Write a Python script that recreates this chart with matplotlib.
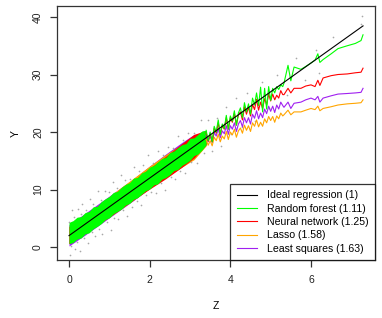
import matplotlib
matplotlib.use("Agg")
import matplotlib.pyplot as plt

plt.rcParams['font.family'] = ['Liberation Sans', 'DejaVu Sans']

# ideal regression line end points
ideal_z = [0.0, 7.29]
ideal_y = [2.0, 38.45]

# dense part (z 0..3.4): green band edges
band_z = [0.0, 0.1, 0.2, 0.3, 0.4, 0.5, 0.6, 0.7, 0.8, 0.9, 1.0, 1.1, 1.2, 1.3, 1.4, 1.5, 1.6,
          1.7, 1.8, 1.9, 2.0, 2.1, 2.2, 2.3, 2.4, 2.5, 2.6, 2.7, 2.8, 2.9, 3.0, 3.1, 3.2, 3.3, 3.4]
rf_up = [4.3, 4.6, 5.2, 5.3, 6.0, 6.2, 7.0, 7.1, 7.9, 8.4, 8.8, 9.5, 9.7, 10.4, 10.9, 11.2, 12.0,
         12.1, 12.9, 13.2, 13.9, 14.2, 14.8, 15.4, 15.6, 16.4, 16.7, 17.3, 17.8, 18.0, 18.9, 19.0,
         19.6, 20.2, 20.3]
rf_lo = [0.6, 0.8, 1.4, 1.6, 2.3, 2.5, 3.2, 3.6, 4.1, 4.8, 5.1, 5.8, 6.2, 6.6, 7.3, 7.6, 8.3,
         8.6, 9.2, 9.8, 10.1, 10.8, 11.0, 11.8, 12.1, 12.6, 13.3, 13.5, 14.2, 14.6, 15.1, 15.9,
         16.2, 16.9, 17.8]

# other methods in the dense part, coarser
band2_z = [0.0, 0.4, 0.8, 1.2, 1.6, 2.0, 2.4, 2.8, 3.1, 3.4]
ls_up = [3.9, 5.9, 7.9, 9.9, 11.9, 14.1, 16.2, 18.2, 19.6, 19.6]
ls_lo = [0.2, 2.1, 4.1, 6.1, 8.1, 10.2, 12.3, 14.3, 15.8, 18.0]
lasso_up = [3.6, 5.6, 7.6, 9.9, 12.0, 14.1, 16.1, 17.9, 19.0, 18.8]
lasso_lo = [0.6, 2.4, 4.3, 6.2, 8.2, 10.2, 12.1, 13.9, 15.2, 17.6]
nn_up = [3.6, 5.6, 7.6, 9.6, 11.6, 13.7, 15.8, 18.0, 19.6, 20.3]
nn_lo = [0.6, 2.4, 4.3, 6.2, 8.2, 10.1, 11.9, 13.9, 15.5, 17.8]

# sparse part (z >= 3.4) as lines
line_z = [3.40, 3.45, 3.50, 3.55, 3.60, 3.65, 3.70, 3.75, 3.80, 3.85, 3.90, 3.95, 4.00, 4.05,
          4.10, 4.15, 4.20, 4.25, 4.30, 4.35, 4.40, 4.45, 4.50, 4.55, 4.60, 4.65, 4.70, 4.75,
          4.80, 4.85, 4.90, 4.95, 5.00, 5.05, 5.10, 5.15, 5.20, 5.25, 5.30,
          5.33, 5.43, 5.5, 5.58, 5.75, 5.87, 6.0, 6.1, 6.17, 6.22, 6.3, 6.5, 6.67, 6.9, 7.1,
          7.24, 7.29]
rf_y = [20.3, 18.5, 20.0, 18.3, 21.0, 20.0, 22.1, 19.6, 21.4, 20.6, 22.9, 20.5, 22.8, 21.9,
        23.7, 21.2, 23.3, 24.2, 22.5, 25.1, 23.5, 24.9, 23.1, 25.9, 24.7, 26.8, 24.6, 27.8,
        23.5, 27.6, 24.0, 27.9, 25.5, 27.6, 26.8, 27.9, 27.4, 28.2, 27.9,
        28.5, 31.6, 28.9, 31.3, 30.9, 31.4, 32.0, 32.5, 33.6, 32.1, 32.6, 33.6, 34.5, 35.0, 35.4,
        35.9, 36.9]
nn_y = [19.9, 18.4, 19.7, 18.3, 20.7, 19.8, 21.6, 19.6, 21.1, 20.5, 22.5, 20.5, 22.5, 21.7,
        23.3, 21.2, 23.0, 23.5, 22.1, 24.4, 23.1, 24.3, 22.8, 24.8, 23.9, 25.7, 23.8, 25.2,
        24.1, 25.8, 24.7, 26.6, 25.4, 26.6, 25.6, 26.4, 25.9, 27.2, 26.5,
        26.5, 27.6, 26.8, 27.6, 27.6, 28.0, 28.2, 27.9, 29.0, 28.1, 29.4, 29.8, 30.0, 30.1, 30.3,
        30.4, 31.1]
ls_y = [19.4, 18.3, 19.3, 18.2, 19.9, 19.3, 20.6, 19.0, 20.2, 19.7, 21.1, 19.6, 21.1, 20.5,
        21.6, 20.1, 21.4, 22.0, 20.9, 22.5, 21.6, 22.5, 21.4, 23.1, 22.4, 23.7, 22.3, 23.3,
        22.5, 24.0, 23.2, 24.5, 23.6, 24.5, 23.4, 24.7, 24.0, 25.2, 24.6,
        24.3, 25.2, 24.1, 25.0, 25.2, 25.6, 25.9, 25.6, 26.2, 25.2, 25.9, 26.3, 26.6, 26.7, 26.8,
        26.9, 27.6]
lasso_y = [18.7, 17.7, 18.5, 17.6, 19.1, 18.5, 19.6, 18.3, 19.3, 18.8, 20.1, 18.7, 20.0, 19.5,
           20.5, 19.1, 20.2, 20.7, 19.8, 21.2, 20.3, 21.1, 20.1, 21.6, 21.0, 22.1, 20.9, 21.7,
           21.0, 22.3, 21.6, 22.7, 22.0, 22.7, 21.7, 22.8, 22.3, 23.3, 22.8,
           23.0, 23.8, 23.0, 23.5, 23.5, 23.8, 24.1, 23.9, 24.5, 23.7, 24.1, 24.4, 24.7, 24.9,
           25.0, 25.1, 25.6]

# grey data points visible outside the coloured band
pts_z = [0.01, 0.03, 0.06, 0.08, 0.12, 0.14, 0.19, 0.22, 0.27, 0.30, 0.33, 0.38, 0.42, 0.47,
         0.52, 0.56, 0.60, 0.64, 0.71, 0.74, 0.79, 0.83, 0.88, 0.93, 0.98, 1.03, 1.08, 1.12,
         1.18, 1.22, 1.29, 1.33, 1.38, 1.45, 1.50, 1.55, 1.62, 1.68, 1.73, 1.79, 1.84, 1.90,
         1.97, 2.03, 2.08, 2.15, 2.21, 2.27, 2.33, 2.38, 2.45, 2.52, 2.58, 2.63, 2.70, 2.76,
         2.82, 2.88, 2.95, 3.02, 3.10, 3.18, 3.27, 3.35, 3.45, 3.55, 3.66, 3.78, 3.90, 4.02,
         4.15, 4.30, 4.42, 4.60, 4.78, 4.95, 5.15, 5.40, 5.62, 5.85, 6.12, 6.20, 6.55, 7.25, 7.27]
pts_y = [4.35, -1.35, 0.2, 6.4, 5.2, -0.4, 0.95, 6.7, -0.65, 5.7, 7.55, 1.5, 6.5, 0.75,
         8.4, 2.6, 7.5, 1.9, 9.75, 3.1, 8.15, 2.25, 9.8, 4.35, 9.5, 3.05, 11.3, 5.1,
         10.3, 4.9, 12.45, 6.45, 11.7, 5.45, 11.8, 7.05, 14.0, 8.1, 13.15, 7.35, 14.2, 9.1,
         15.95, 9.55, 14.7, 9.35, 16.65, 11.15, 16.05, 10.0, 17.45, 12.2, 17.2, 11.85, 19.3, 13.3,
         18.7, 12.8, 19.75, 14.8, 19.9, 14.7, 22.05, 16.35, 22.05, 16.75, 22.5, 17.6, 24.4, 19.7,
         25.85, 20.9, 26.7, 21.9, 28.7, 24.25, 29.85, 26.4, 32.8, 29.05, 34.2, 30.2, 36.55, 38.7,
         40.2]

labels = ["Ideal regression (1)", "Random forest (1.11)", "Neural network (1.25)",
          "Lasso (1.58)", "Least squares (1.63)"]

c_rf = "#00FF00"
c_nn = "#FF0000"
c_lasso = "#FFA500"
c_ls = "#A020F0"

fig = plt.figure(figsize=(3.82, 3.18), dpi=100)
ax = fig.add_axes([0.149, 0.182, 0.833, 0.799])

ax.plot(pts_z, pts_y, 'o', color='#a8a8a8', markersize=1.2, markeredgewidth=0)

lw = 0.8
ax.fill_between(band2_z, ls_lo, ls_up, color=c_ls, lw=0)
ax.fill_between(band2_z, lasso_lo, lasso_up, color=c_lasso, lw=0)
ax.fill_between(band2_z, nn_lo, nn_up, color=c_nn, lw=0)
ax.fill_between(band_z, rf_lo, rf_up, color=c_rf, lw=0)

h_ls, = ax.plot(line_z, ls_y, color=c_ls, lw=lw)
h_lasso, = ax.plot(line_z, lasso_y, color=c_lasso, lw=lw)
h_nn, = ax.plot(line_z, nn_y, color=c_nn, lw=lw)
h_rf, = ax.plot(line_z, rf_y, color=c_rf, lw=lw)
h_id, = ax.plot(ideal_z, ideal_y, color='black', lw=lw)

ax.set_xlim(-0.30, 7.59)
ax.set_ylim(-2.26, 41.9)
ax.set_xticks([0, 2, 4, 6])
ax.set_yticks([0, 10, 20, 30, 40])
for s in ax.spines.values():
    s.set_color('#333333')
    s.set_linewidth(0.9)
ax.tick_params(direction='out', length=5, width=0.9, color='#333333', labelsize=7.5,
               labelcolor='#222222')
ax.tick_params(axis='x', pad=6)
ax.tick_params(axis='y', pad=5)
for t in ax.get_yticklabels():
    t.set_rotation(90)
    t.set_va('center')

ax.set_xlabel("Z", fontsize=7.5, labelpad=11)
ax.set_ylabel("Y", fontsize=7.5, labelpad=9)

leg = ax.legend([h_id, h_rf, h_nn, h_lasso, h_ls], labels, loc='lower right',
                borderaxespad=0, fontsize=7.6, frameon=True, fancybox=False,
                handlelength=1.9, handletextpad=1.0, labelspacing=0.32, borderpad=0.6)
leg.get_frame().set_edgecolor('black')
leg.get_frame().set_linewidth(0.9)

fig.savefig("out.png", dpi=100)
